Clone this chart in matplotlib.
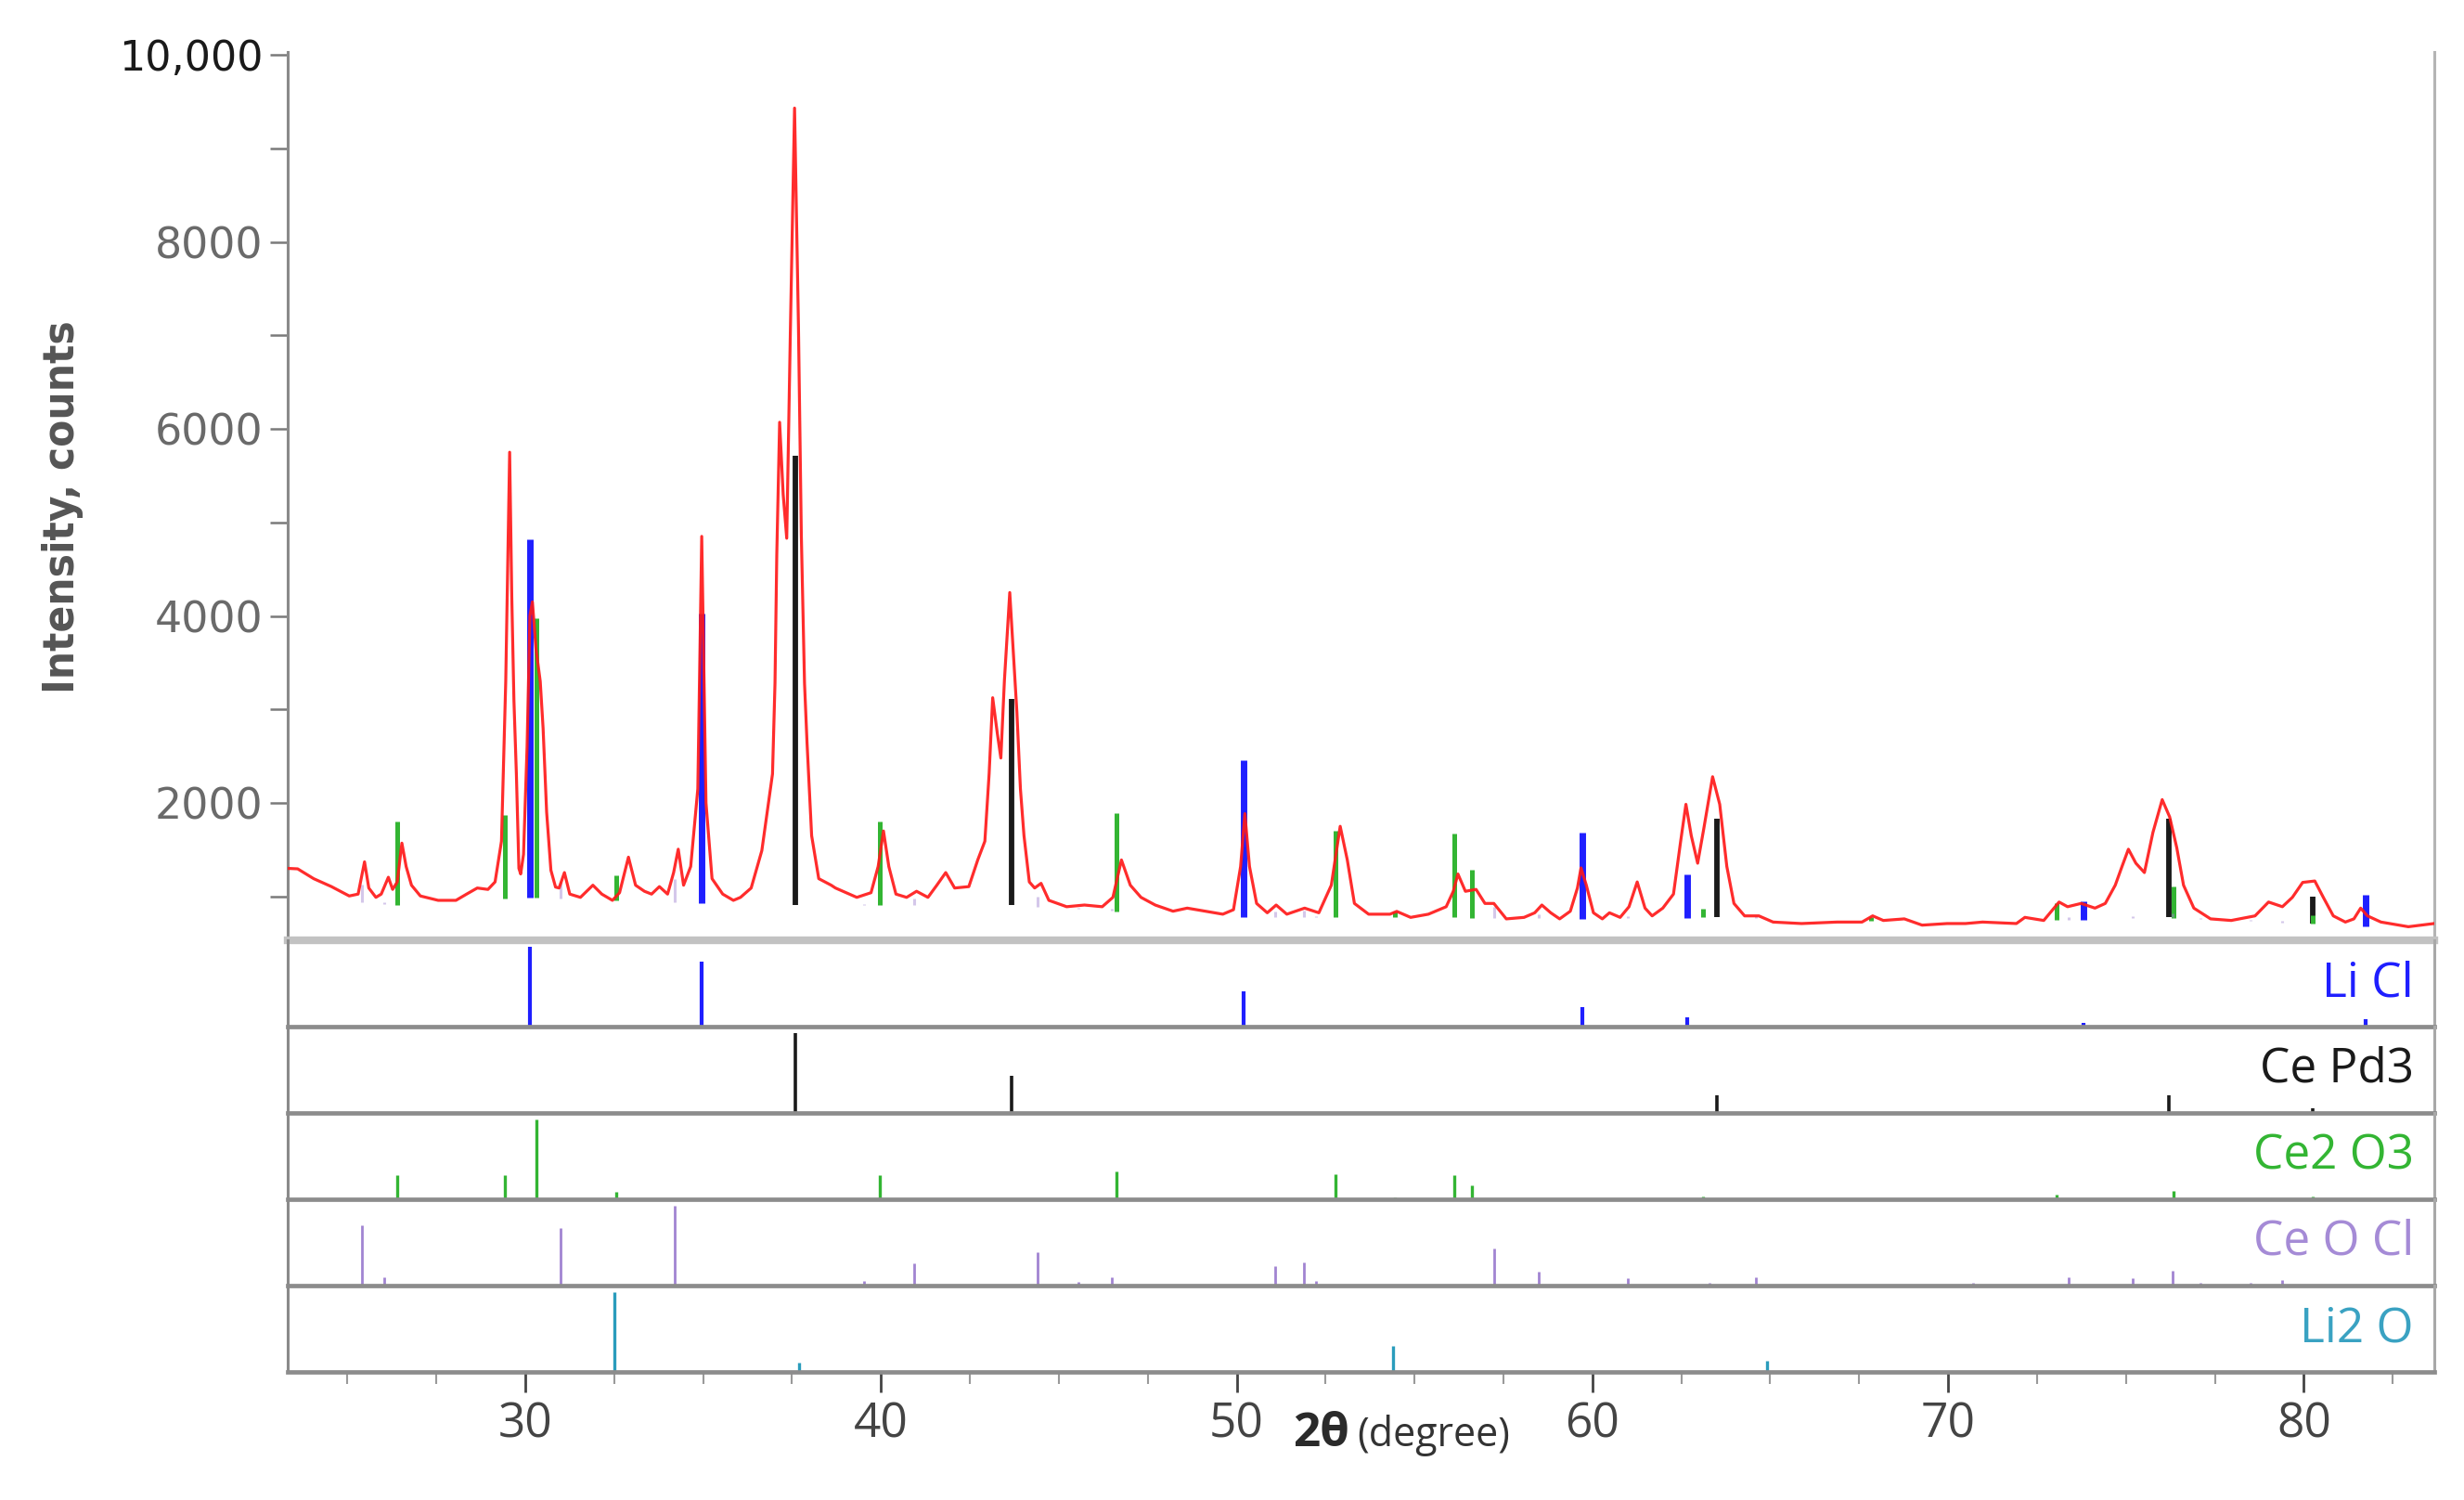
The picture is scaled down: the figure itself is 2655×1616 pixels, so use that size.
import numpy as np
import matplotlib
matplotlib.use("Agg")
import matplotlib.pyplot as plt
from matplotlib import font_manager as fm
from matplotlib.ticker import FixedLocator, FixedFormatter

# ---------------- data ----------------
two_theta = [23.32, 23.6, 24.05, 24.55, 25.05, 25.3, 25.48, 25.6, 25.8, 25.95, 26.15, 26.27, 26.4,
             26.53, 26.65, 26.8, 27.05, 27.55, 28.05, 28.35, 28.65, 28.95, 29.15, 29.33, 29.45,
             29.56, 29.62, 29.68, 29.75, 29.82, 29.87, 29.95, 30.05, 30.13, 30.2, 30.3, 30.42,
             30.5, 30.6, 30.72, 30.85, 30.95, 31.1, 31.25, 31.55, 31.9, 32.15, 32.45, 32.65,
             32.9, 33.1, 33.35, 33.55, 33.77, 34.0, 34.17, 34.3, 34.45, 34.65, 34.85, 34.96,
             35.08, 35.25, 35.55, 35.85, 36.05, 36.35, 36.65, 36.95, 37.02, 37.07, 37.15, 37.25,
             37.35, 37.45, 37.57, 37.68, 37.76, 37.85, 37.92, 38.05, 38.25, 38.6, 38.72, 39.32,
             39.72, 39.92, 40.07, 40.22, 40.42, 40.72, 41.0, 41.32, 41.57, 41.82, 42.07, 42.47,
             42.72, 42.92, 43.04, 43.14, 43.27, 43.37, 43.47, 43.62, 43.82, 43.92, 44.02, 44.17,
             44.32, 44.5, 44.72, 45.22, 45.72, 46.22, 46.52, 46.76, 47.01, 47.31, 47.71, 48.21,
             48.61, 49.11, 49.61, 49.91, 50.11, 50.23, 50.36, 50.56, 50.86, 51.11, 51.41, 51.91,
             52.31, 52.66, 52.91, 53.11, 53.31, 53.71, 54.31, 54.5, 54.89, 55.39, 55.89, 56.09,
             56.22, 56.43, 56.73, 56.98, 57.23, 57.58, 58.08, 58.38, 58.58, 58.83, 59.08, 59.38,
             59.58, 59.68, 59.83, 60.03, 60.28, 60.48, 60.78, 61.03, 61.26, 61.48, 61.68, 61.98,
             62.28, 62.48, 62.63, 62.78, 62.96, 63.13, 63.38, 63.58, 63.78, 63.98, 64.28, 64.68,
             65.08, 65.88, 66.88, 67.58, 67.88, 68.18, 68.77, 69.27, 69.97, 70.49, 70.97, 71.92,
             72.16, 72.69, 73.12, 73.36, 73.74, 74.13, 74.42, 74.7, 74.89, 75.07, 75.28, 75.52,
             75.76, 76.02, 76.23, 76.43, 76.62, 76.91, 77.38, 77.96, 78.63, 79.01, 79.4, 79.68,
             79.97, 80.31, 80.55, 80.83, 81.17, 81.41, 81.6, 81.79, 82.17, 82.94, 83.66]
counts = [1300, 1295, 1190, 1105, 1005, 1025, 1370, 1090, 990, 1025, 1205, 1075, 1155,
          1570, 1320, 1120, 1005, 958, 958, 1025, 1090, 1075, 1155, 1590, 3300,
          5750, 4200, 3100, 2300, 1300, 1240, 1450, 2600, 4000, 4150, 3650, 3300,
          2800, 1900, 1280, 1100, 1090, 1255, 1025, 990, 1120, 1025, 958, 1040,
          1420, 1120, 1055, 1025, 1105, 1025, 1255, 1505, 1120, 1320, 2150, 4850,
          2000, 1190, 1025, 958, 990, 1090, 1490, 2310, 3280, 4650, 6070, 5300,
          4830, 7000, 9430, 7090, 4870, 3280, 2650, 1650, 1190, 1120, 1090, 990,
          1040, 1320, 1700, 1320, 1025, 990, 1055, 990, 1120, 1255, 1090, 1105,
          1390, 1590, 2310, 3125, 2745, 2480, 3310, 4250, 2975, 2150, 1650, 1155,
          1090, 1140, 958, 890, 908, 890, 990, 1390, 1120, 990, 908, 842,
          875, 842, 810, 858, 1320, 1885, 1320, 925, 825, 908, 810, 875,
          825, 1120, 1750, 1390, 925, 810, 810, 840, 776, 810, 890, 1055,
          1240, 1055, 1075, 925, 925, 760, 776, 825, 908, 825, 760, 842,
          1090, 1305, 1120, 825, 760, 825, 776, 890, 1155, 875, 792, 875,
          1025, 1585, 1985, 1650, 1355, 1720, 2280, 1985, 1320, 925, 792, 792,
          726, 710, 726, 726, 792, 743, 760, 693, 710, 710, 726, 710,
          776, 743, 940, 890, 925, 875, 925, 1120, 1320, 1505, 1355, 1255,
          1685, 2035, 1850, 1520, 1120, 875, 760, 743, 792, 940, 890, 990,
          1150, 1165, 990, 792, 726, 760, 875, 792, 726, 676, 710]

# background level under the reference sticks in the top panel
bg_theta = [23.0, 26.4, 30.0, 32.5, 35.0, 37.6, 40.0, 43.7, 46.6, 50.2, 52.8, 56.0, 59.7,
            63.5, 70.0, 76.2, 80.3, 81.8, 84.0]
bg_counts = [1000, 908, 991, 958, 925, 908, 908, 908, 842, 776, 776, 776, 759,
             776, 720, 776, 710, 676, 660]

phase_names = ["Li Cl", "Ce Pd3", "Ce2 O3", "Ce O Cl", "Li2 O"]

licl_pos = [30.13, 34.95, 50.2, 59.72, 62.67, 73.8, 81.75]
licl_int = [100, 81, 44, 24, 12, 5, 9]

cepd3_pos = [37.6, 43.68, 63.5, 76.22, 80.25]
cepd3_int = [100, 46, 22, 22, 6]

ce2o3_pos = [26.4, 29.42, 30.31, 32.55, 39.97, 46.63, 52.78, 54.45, 56.13, 56.62, 63.1,
             67.83, 73.05, 76.35, 80.25]
ce2o3_int = [30, 30, 100, 9, 30, 35, 31, 2, 30, 17, 3, 1.5, 6, 11, 3]

ceocl_pos = [25.4, 26.04, 31.0, 34.2, 39.52, 40.92, 44.4, 45.56, 46.48, 51.08, 51.88, 52.24,
             57.24, 58.5, 61.0, 63.3, 64.6, 70.7, 73.4, 75.2, 76.3, 77.1, 78.5, 79.4]
ceocl_int = [76, 10, 72, 100, 6, 28, 42, 5, 10, 24, 29, 6,
             47, 17, 9, 3, 11, 3, 11, 9, 19, 4, 3, 7]

li2o_pos = [32.5, 37.7, 54.4, 64.9]
li2o_int = [100, 12, 32, 14]

# counts of the strongest line of each phase as drawn in the top panel
main_scale = [3830, 4800, 2990, 250, 0]

x_ticks = [30, 40, 50, 60, 70, 80]
y_ticks = [2000, 4000, 6000, 8000, 10000]
y_tick_labels = ["2000", "4000", "6000", "8000", "10,000"]
y_minor = [1000, 3000, 5000, 7000, 9000]

# ---------------- style ----------------
names = {f.name for f in fm.fontManager.ttflist}
sans = "Open Sans" if "Open Sans" in names else "DejaVu Sans"
narrow = "Liberation Sans Narrow" if "Liberation Sans Narrow" in names else None

phase_colors = ["#1f1fff", "#1a1a1a", "#33b533", "#a184d2", "#2a9cbc"]
label_colors = ["#1f1fff", "#1a1a1a", "#33b533", "#a58bd6", "#3aa2c2"]
main_lw = [5.0, 4.2, 3.6, 2.2, 2.0]
sub_lw = [3.0, 2.6, 2.4, 2.0, 2.4]
main_alpha = [1.0, 1.0, 1.0, 0.45, 1.0]

W, H = 2655, 1616
fig = plt.figure(figsize=(W / 100, H / 100), dpi=100)

x_left, x_right = 310, 2623
main_top, main_bot = 56, 1013
panel_h = 93

def frac(x0, y0, x1, y1):
    return [x0 / W, 1 - y1 / H, (x1 - x0) / W, (y1 - y0) / H]

xlim = (23.32, 83.67)

ax = fig.add_axes(frac(x_left, main_top, x_right, main_bot))
ax.set_xlim(*xlim)
ax.set_ylim(531, 10030)

positions = [licl_pos, cepd3_pos, ce2o3_pos, ceocl_pos, li2o_pos]
intens = [licl_int, cepd3_int, ce2o3_int, ceocl_int, li2o_int]

for k in range(5):
    if main_scale[k] <= 0:
        continue
    pos = np.array(positions[k])
    base = np.interp(pos, bg_theta, bg_counts)
    top = base + np.array(intens[k]) / 100.0 * main_scale[k]
    ax.vlines(pos, base, top, colors=phase_colors[k], linewidth=main_lw[k],
              alpha=main_alpha[k], zorder=2)

ax.plot(two_theta, counts, color="#ff1a1a", linewidth=2.3, alpha=0.92, zorder=3,
        solid_joinstyle="round")

ax.spines["top"].set_visible(False)
ax.spines["left"].set_color("#8a8a8a")
ax.spines["left"].set_linewidth(2.2)
ax.spines["right"].set_color("#b4b4b4")
ax.spines["right"].set_linewidth(2.2)
ax.spines["bottom"].set_color("#c2c2c2")
ax.spines["bottom"].set_linewidth(6.0)
ax.spines["bottom"].set_zorder(5)
ax.set_xticks([])
ax.yaxis.set_major_locator(FixedLocator(y_ticks))
ax.yaxis.set_major_formatter(FixedFormatter(y_tick_labels))
ax.yaxis.set_minor_locator(FixedLocator(y_minor))
ax.tick_params(axis="y", which="both", direction="out", length=14, width=1.8,
               color="#7a7a7a", pad=5, labelsize=33, labelcolor="#6a6a6a")
for t in ax.get_yticklabels():
    t.set_fontfamily("DejaVu Sans")
    if t.get_text() == "10,000":
        t.set_color("#1a1a1a")
        t.set_fontsize(32)

# y label
if narrow:
    fig.text(68 / W, 1 - 546 / H, "Intensity, counts", rotation=90, ha="center", va="center",
             fontsize=36, fontweight="bold", color="#555555", family=narrow)
else:
    fig.text(68 / W, 1 - 546 / H, "Intensity, counts", rotation=90, ha="center", va="center",
             fontsize=34, fontweight="bold", color="#555555", family="DejaVu Sans",
             fontstretch="condensed")

# phase panels
sub_axes = []
for k in range(5):
    y0 = main_bot + k * panel_h
    y1 = y0 + panel_h
    sa = fig.add_axes(frac(x_left, y0, x_right, y1))
    sa.set_xlim(*xlim)
    sa.set_ylim(0, 108)
    sa.vlines(positions[k], 0, intens[k], colors=phase_colors[k], linewidth=sub_lw[k], zorder=2)
    sa.spines["top"].set_visible(False)
    sa.spines["left"].set_color("#8a8a8a")
    sa.spines["left"].set_linewidth(2.2)
    sa.spines["right"].set_color("#a8a8a8")
    sa.spines["right"].set_linewidth(2.2)
    sa.spines["bottom"].set_color("#8c8c8c")
    sa.spines["bottom"].set_linewidth(3.4)
    sa.spines["bottom"].set_zorder(5)
    sa.set_yticks([])
    sa.text(2601 / W, 1 - (y0 + y1) / 2 / H, phase_names[k], transform=fig.transFigure,
            ha="right", va="center", fontsize=37, color=label_colors[k], family=sans)
    if k < 4:
        sa.set_xticks([])
    sub_axes.append(sa)
    sa.patch.set_alpha(0)

bax = sub_axes[-1]
bax.set_xticks(x_ticks)
bax.set_xticklabels([str(v) for v in x_ticks])
minor = [v for v in np.arange(25, 84, 2.5) if v not in x_ticks]
bax.set_xticks(minor, minor=True)
bax.tick_params(axis="x", which="major", direction="out", length=16, width=2.0,
                color="#444444", pad=7, labelsize=37, labelcolor="#444444")
bax.tick_params(axis="x", which="minor", direction="out", length=9, width=1.5,
                color="#9a9a9a")
for t in bax.get_xticklabels():
    t.set_fontfamily(sans)

# x label
fig.text(1393 / W, 1 - 1558 / H, "2θ", ha="left", va="baseline", fontsize=37,
         fontweight="bold", color="#2a2a2a", family=sans)
fig.text(1462 / W, 1 - 1558 / H, "(degree)", ha="left", va="baseline", fontsize=31,
         color="#333333", family=sans)

fig.savefig("out.png", dpi=100, facecolor="white")
